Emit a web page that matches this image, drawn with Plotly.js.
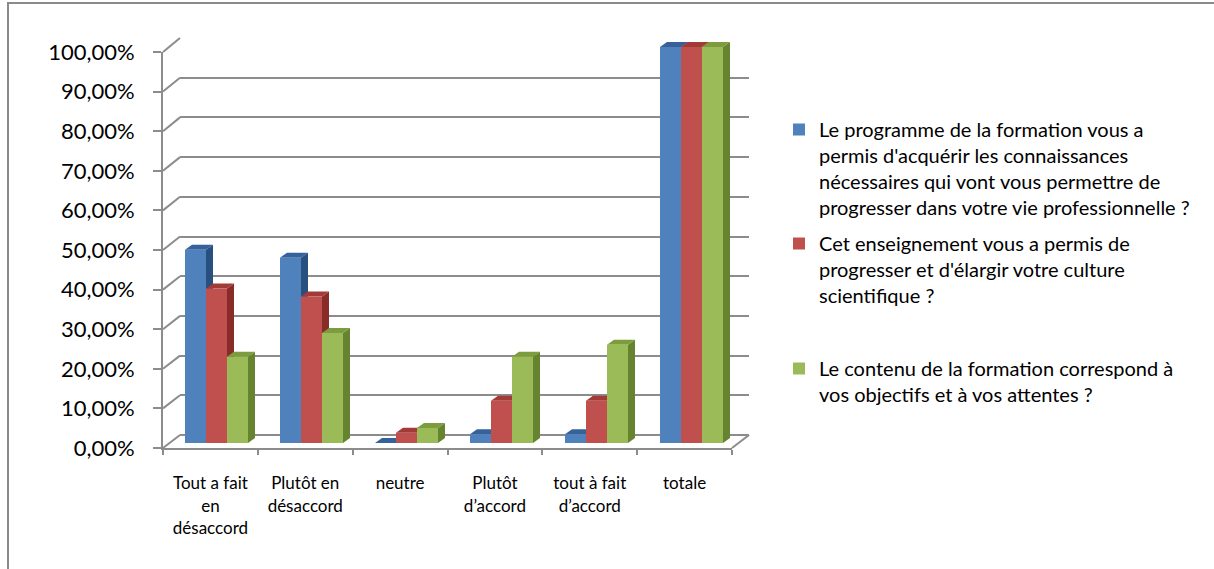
<!DOCTYPE html>
<html>
<head>
<meta charset="utf-8">
<script src="https://cdn.plot.ly/plotly-3.0.1.min.js"></script>
<style>
  html, body { margin: 0; padding: 0; background: #ffffff; }
  #chart { width: 1214px; height: 569px; }
</style>
</head>
<body>
<div id="chart"></div>
<script>
// Survey answers (share of respondents, %) for three questions about the course
const categories = ['Tout a fait en désaccord', 'Plutôt en désaccord', 'neutre', 'Plutôt d’accord', 'tout à fait d’accord', 'totale'];
const categoryLabels = ['Tout a fait<br>en<br>désaccord', 'Plutôt en<br>désaccord', 'neutre', 'Plutôt<br>d’accord', 'tout à fait<br>d’accord', 'totale'];

const seriesNames = [
  'Le programme de la formation vous a<br>permis d\'acquérir les connaissances<br>nécessaires qui vont vous permettre de<br>progresser dans votre vie professionnelle ?',
  'Cet enseignement vous a permis de<br>progresser et d\'élargir votre culture<br>scientifique ?',
  'Le contenu de la formation correspond à<br>vos objectifs et à vos attentes ?'
];
const programmeValues = [48.8, 46.8, 0, 2.2, 2.2, 100];
const enseignementValues = [39, 37, 2.6, 10.7, 10.7, 100];
const contenuValues = [21.8, 27.8, 3.8, 21.8, 24.8, 100];

const yTicks = [0, 10, 20, 30, 40, 50, 60, 70, 80, 90, 100];

// Colours: front face, side face, top face
const frontColors = ['#4F81BD', '#C0504D', '#9BBB59'];
const sideColors = ['#28507F', '#892C29', '#66832F'];
const topColors = ['#35629A', '#A23A37', '#7C9C3E'];
const wallColor = '#8C8C8C';

// Page geometry (pixels) used to place the pseudo-3D frame
const W = 1214, H = 569;
const fx = px => px / W;
const fy = py => 1 - py / H;

const frontLeft = 163, frontRight = 732, frontBottom = 448, frontTop = 52;
const backLeft = 180, backRight = 749, backBottom = 435, backTop = 38;
const barLeft = 169, barRight = 739, barZero = 443, barPxPerUnit = 3.96;
const barYMin = -2, barYMax = 105;

const nCat = categories.length;
const barPxPerCat = (barRight - barLeft) / nCat;
const barWidth = 21 / barPxPerCat;
const depthX = 7 / barPxPerCat;      // extrusion to the right, in category units
const depthY = 5 / barPxPerUnit;     // extrusion upwards, in % units

const seriesValues = [programmeValues, enseignementValues, contenuValues];
const xIdx = categories.map((_, i) => i);

// Invisible traces that register the back-wall and front-axis subplots
const wallTrace = {
  type: 'scatter', mode: 'none', x: yTicks.map(() => 0.5), y: yTicks,
  xaxis: 'x', yaxis: 'y', showlegend: false, hoverinfo: 'skip'
};
const frontTrace = {
  type: 'scatter', mode: 'none', x: categories, y: programmeValues,
  xaxis: 'x2', yaxis: 'y2', showlegend: false, hoverinfo: 'skip'
};

const barTraces = seriesValues.map((vals, k) => ({
  type: 'bar',
  name: seriesNames[k],
  x: xIdx,
  y: vals,
  xaxis: 'x3',
  yaxis: 'y3',
  width: barWidth,
  offset: -1.5 * barWidth + k * barWidth,
  marker: { color: frontColors[k], line: { width: 0 } },
  legend: k === 0 ? 'legend' : 'legend' + (k + 1),
  hoverinfo: 'skip'
}));

// Side and top faces of each column
const shapes = [];
seriesValues.forEach((vals, k) => {
  vals.forEach((v, i) => {
    const xl = i - 1.5 * barWidth + k * barWidth;
    const xr = xl + barWidth;
    shapes.push({
      type: 'path', xref: 'x3', yref: 'y3', layer: 'between',
      path: `M${xr},0 L${xr + depthX},${depthY} L${xr + depthX},${v + depthY} L${xr},${v} Z`,
      fillcolor: sideColors[k], line: { width: 0 }
    });
    shapes.push({
      type: 'path', xref: 'x3', yref: 'y3', layer: 'between',
      path: `M${xl},${v} L${xr},${v} L${xr + depthX},${v + depthY} L${xl + depthX},${v + depthY} Z`,
      fillcolor: topColors[k], line: { width: 0 }
    });
  });
});

// Side wall: one diagonal per tick, joining the front axis to the back wall
const frontDomain = [fy(frontBottom), fy(frontTop)];
const backDomain = [fy(backBottom), fy(backTop)];
yTicks.forEach(t => {
  shapes.push({
    type: 'line', xref: 'paper', yref: 'paper', layer: 'below',
    x0: fx(frontLeft), x1: fx(backLeft),
    y0: frontDomain[0] + t / 100 * (frontDomain[1] - frontDomain[0]),
    y1: backDomain[0] + t / 100 * (backDomain[1] - backDomain[0]),
    line: { color: wallColor, width: 2 }
  });
});
// Right edge of the floor
shapes.push({
  type: 'line', xref: 'paper', yref: 'paper', layer: 'below',
  x0: fx(frontRight), y0: fy(frontBottom), x1: fx(backRight), y1: fy(backBottom),
  line: { color: wallColor, width: 2 }
});
// Chart area frame
shapes.push({
  type: 'rect', xref: 'paper', yref: 'paper', layer: 'below',
  x0: fx(8), y0: -0.02, x1: 1.02, y1: fy(3),
  line: { color: '#8A8A8A', width: 2 }, fillcolor: 'rgba(0,0,0,0)'
});

const baseFont = 'Lato, "Open Sans", sans-serif';
const legendCommon = {
  xanchor: 'left', yanchor: 'top', valign: 'top',
  bgcolor: 'rgba(0,0,0,0)', borderwidth: 0,
  font: { family: baseFont, size: 20, color: '#000000' },
  itemclick: false, itemdoubleclick: false
};

const layout = {
  width: W, height: H,
  margin: { l: 0, r: 0, t: 0, b: 0 },
  paper_bgcolor: '#ffffff',
  plot_bgcolor: 'rgba(0,0,0,0)',
  separators: ', ',
  font: { family: baseFont, color: '#000000' },
  barmode: 'overlay',
  // back wall with its horizontal gridlines
  xaxis: {
    domain: [fx(backLeft), fx(backRight)], anchor: 'y', range: [0, 1],
    showgrid: false, zeroline: false, showline: false, showticklabels: false, ticks: '', fixedrange: true
  },
  yaxis: {
    domain: backDomain, anchor: 'x', range: [0, 100], tickvals: yTicks,
    showgrid: true, gridcolor: wallColor, gridwidth: 2,
    zeroline: true, zerolinecolor: wallColor, zerolinewidth: 2,
    showline: false, showticklabels: false, ticks: '', fixedrange: true
  },
  // front axes carrying the labels
  xaxis2: {
    domain: [fx(frontLeft), fx(frontRight)], anchor: 'y2',
    type: 'category', categoryorder: 'array', categoryarray: categories,
    range: [-0.5, nCat - 0.5],
    tickvals: categories, ticktext: categoryLabels,
    tickson: 'boundaries', ticks: 'outside', ticklen: 5, tickwidth: 2, tickcolor: wallColor,
    showline: true, linecolor: wallColor, linewidth: 2,
    showgrid: false, zeroline: false, tickangle: 0,
    ticklabelstandoff: 19,
    tickfont: { family: baseFont, size: 17, color: '#000000' },
    fixedrange: true
  },
  yaxis2: {
    domain: frontDomain, anchor: 'x2', range: [0, 100],
    tickmode: 'linear', tick0: 0, dtick: 10,
    tickformat: '.2f', ticksuffix: '%', showticksuffix: 'all',
    ticks: 'outside', ticklen: 8, tickwidth: 2, tickcolor: wallColor,
    showline: true, linecolor: wallColor, linewidth: 2,
    showgrid: false, zeroline: false,
    ticklabelstandoff: 14,
    tickfont: { family: baseFont, size: 22, color: '#000000' },
    fixedrange: true
  },
  // axes for the columns
  xaxis3: {
    domain: [fx(barLeft), fx(barRight)], anchor: 'y3', range: [-0.5, nCat - 0.5],
    showgrid: false, zeroline: false, showline: false, showticklabels: false, ticks: '', fixedrange: true
  },
  yaxis3: {
    domain: [fy(barZero + (0 - barYMin) * barPxPerUnit), fy(barZero - barYMax * barPxPerUnit)],
    anchor: 'x3', range: [barYMin, barYMax],
    showgrid: false, zeroline: false, showline: false, showticklabels: false, ticks: '', fixedrange: true
  },
  legend: Object.assign({}, legendCommon, { x: fx(779), y: fy(110) }),
  legend2: Object.assign({}, legendCommon, { x: fx(779), y: fy(224) }),
  legend3: Object.assign({}, legendCommon, { x: fx(779), y: fy(349) }),
  shapes: shapes,
  showlegend: true
};

Plotly.newPlot('chart', [wallTrace, frontTrace].concat(barTraces), layout, { displayModeBar: false, staticPlot: true });
</script>
</body>
</html>
